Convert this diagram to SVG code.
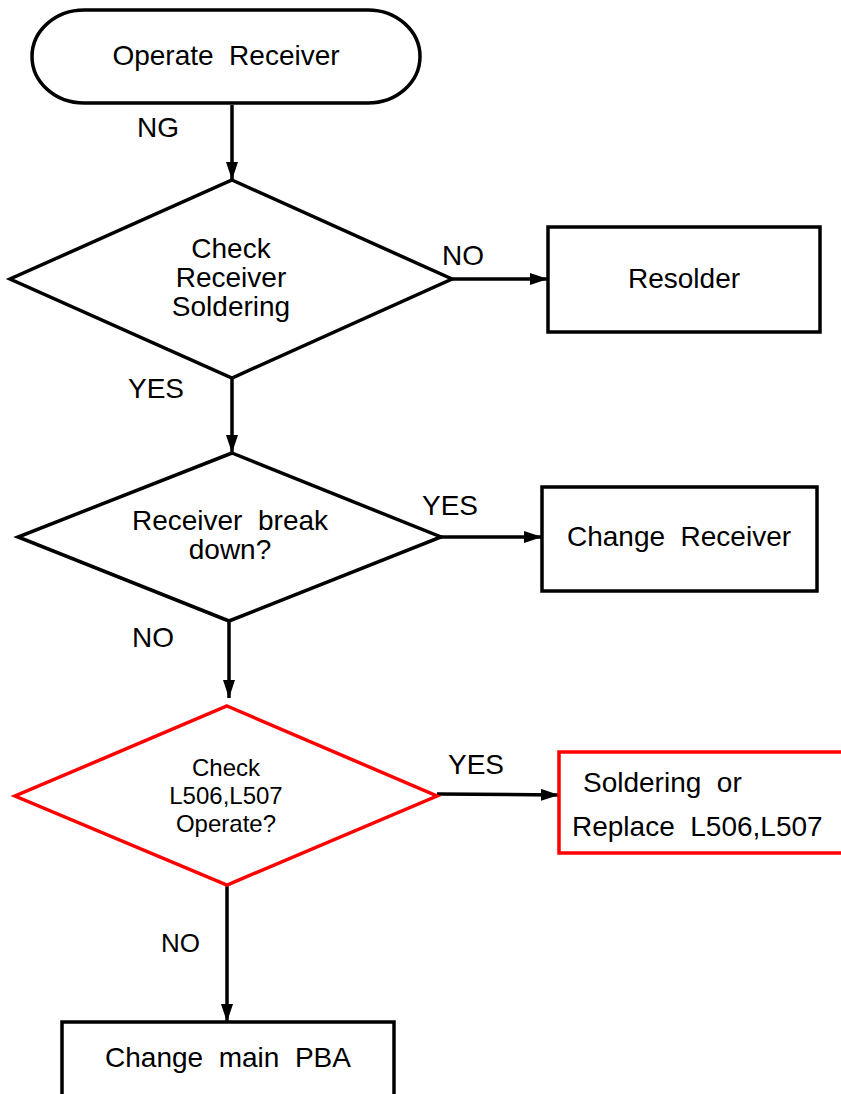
<svg xmlns="http://www.w3.org/2000/svg" width="841" height="1094" viewBox="0 0 841 1094">
<style>
text{font-family:"Liberation Sans",Arial,sans-serif;font-size:28px;fill:#000}
.c{text-anchor:middle}
.s{font-size:26px}
.t{font-size:24px}
.blk{fill:#fff;stroke:#000;stroke-width:3.5}
.red{fill:#fff;stroke:#f00;stroke-width:3.5}
.ln{stroke:#000;stroke-width:3.5;fill:none;marker-end:url(#ah)}
</style>
<defs>
<marker id="ah" viewBox="0 0 18 12" refX="18" refY="6" markerWidth="18" markerHeight="12" markerUnits="userSpaceOnUse" orient="auto">
<path d="M0,0 L18,6 L0,12 z" fill="#000"/>
</marker>
</defs>
<rect width="841" height="1094" fill="#fff"/>
<g id="connectors">
<line class="ln" x1="232" y1="105" x2="232" y2="180"/>
<line class="ln" x1="452" y1="279" x2="548" y2="279"/>
<line class="ln" x1="232" y1="378" x2="232" y2="453"/>
<line class="ln" x1="441" y1="537" x2="542" y2="537"/>
<line class="ln" x1="229" y1="621" x2="229" y2="698"/>
<line class="ln" x1="437" y1="794" x2="559" y2="795"/>
<line class="ln" x1="227" y1="885" x2="227" y2="1022"/>
<text x="137" y="137">NG</text>
<text x="442" y="265">NO</text>
<text x="128" y="398">YES</text>
<text x="422" y="515">YES</text>
<text x="132" y="647">NO</text>
<text x="448" y="774">YES</text>
<text x="161" y="952" class="s">NO</text>
</g>
<g id="start">
<rect class="blk" x="32" y="10" width="388" height="93" rx="52" ry="46.5"/>
<text class="c" x="226" y="65" xml:space="preserve">Operate  Receiver</text>
</g>
<g id="check-soldering">
<polygon class="blk" points="232,180 452,279 232,378 10,279"/>
<text class="c" x="231" y="258">Check</text>
<text class="c" x="231" y="287">Receiver</text>
<text class="c" x="231" y="316">Soldering</text>
</g>
<g id="resolder">
<rect class="blk" x="548" y="227" width="272" height="105"/>
<text class="c" x="684" y="288">Resolder</text>
</g>
<g id="breakdown">
<polygon class="blk" points="232,453 441,537 229,621 18,537"/>
<text class="c" x="230" y="530" xml:space="preserve">Receiver  break</text>
<text class="c" x="230" y="559">down?</text>
</g>
<g id="change-receiver">
<rect class="blk" x="542" y="487" width="275" height="104"/>
<text class="c" x="679" y="546" xml:space="preserve">Change  Receiver</text>
</g>
<g id="check-l506">
<polygon class="red" points="227,706 437,796 227,885 15,796"/>
<text class="c t" x="226" y="776">Check</text>
<text class="c t" x="226" y="804">L506,L507</text>
<text class="c t" x="226" y="832">Operate?</text>
</g>
<g id="replace-l506">
<rect class="red" x="559" y="752" width="300" height="101"/>
<text x="583" y="792" xml:space="preserve">Soldering  or</text>
<text x="572" y="836" xml:space="preserve">Replace  L506,L507</text>
</g>
<g id="change-pba">
<rect class="blk" x="62" y="1022" width="332" height="100"/>
<text class="c" x="228" y="1067" xml:space="preserve">Change  main  PBA</text>
</g>
</svg>
